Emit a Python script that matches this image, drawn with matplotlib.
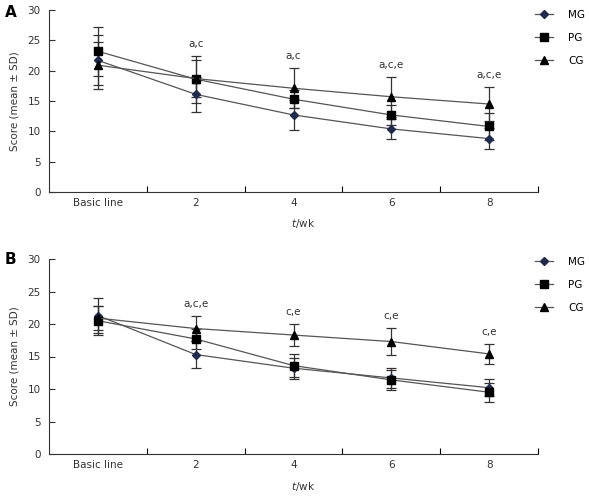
import numpy as np
import matplotlib
matplotlib.use("Agg")
import matplotlib.pyplot as plt
from matplotlib.ticker import MultipleLocator
from matplotlib.lines import Line2D

categories = ["Basic line", "2", "4", "6", "8"]

# Panel A
a_mg = [21.7, 16.1, 12.7, 10.4, 8.8]
a_mg_sd = [4.1, 2.9, 2.5, 1.7, 1.7]
a_pg = [23.2, 18.6, 15.3, 12.7, 10.8]
a_pg_sd = [4.0, 3.9, 1.5, 1.6, 2.2]
a_cg = [20.9, 18.7, 17.1, 15.7, 14.5]
a_cg_sd = [3.9, 3.1, 3.3, 3.3, 2.8]
a_notes = ["", "a,c", "a,c", "a,c,e", "a,c,e"]

# Panel B
b_mg = [21.3, 15.3, 13.2, 11.7, 10.2]
b_mg_sd = [2.7, 2.1, 1.6, 1.6, 1.3]
b_pg = [20.5, 17.7, 13.6, 11.4, 9.5]
b_pg_sd = [2.2, 1.5, 1.8, 1.5, 1.5]
b_cg = [20.9, 19.3, 18.3, 17.3, 15.4]
b_cg_sd = [1.8, 1.9, 1.7, 2.1, 1.5]
b_notes = ["", "a,c,e", "c,e", "c,e", "c,e"]

plt.rcParams['font.family'] = ['DejaVu Sans']
fs = 7.5

fig = plt.figure(figsize=(5.89, 4.96), dpi=100)
ax_a = fig.add_axes([49/589, 1-192/496, 489/589, 182/496])
ax_b = fig.add_axes([49/589, 1-454/496, 489/589, 195/496])

x = np.arange(len(categories))
line_c = '#555555'
err_c = '#333333'
txt_c = '#333333'


def draw(ax, mg, mg_sd, pg, pg_sd, cg, cg_sd, notes, label, xlab_y, lab_y, leg_top):
    series = [
        ("MG", mg, mg_sd, 'D', '#1e2a4e', 4.5),
        ("PG", pg, pg_sd, 's', 'black', 5.5),
        ("CG", cg, cg_sd, '^', 'black', 6),
    ]
    handles = []
    for name, v, sd, m, mc, ms in series:
        ax.errorbar(x, v, yerr=sd, color=line_c, ecolor=err_c, elinewidth=0.9,
                    capsize=3.5, capthick=0.9, lw=0.9, marker=m, ms=ms,
                    mfc=mc, mec=mc)
        handles.append(Line2D([], [], color=line_c, lw=0.9, marker=m, ms=ms,
                              mfc=mc, mec=mc, label=name))
    for i, t in enumerate(notes):
        if t:
            top = max(mg[i] + mg_sd[i], pg[i] + pg_sd[i], cg[i] + cg_sd[i])
            ax.annotate(t, (x[i], top), xytext=(0, 5), textcoords='offset points',
                        ha='center', va='bottom', fontsize=fs, color=txt_c)
    ax.set_xlim(-0.5, 4.5)
    ax.set_ylim(0, 30)
    ax.yaxis.set_major_locator(MultipleLocator(5))
    ax.set_xticks(x)
    ax.set_xticklabels(categories)
    ax.set_xticks(np.arange(0.5, 5, 1), minor=True)
    ax.tick_params(axis='x', which='major', length=0, labelsize=fs, pad=4, colors=txt_c)
    ax.tick_params(axis='x', which='minor', direction='in', length=4, width=0.8)
    ax.tick_params(axis='y', direction='in', length=4, width=0.8, labelsize=fs,
                   pad=6, colors=txt_c)
    for s in ['top', 'right']:
        ax.spines[s].set_visible(False)
    for s in ['left', 'bottom']:
        ax.spines[s].set_color(txt_c)
        ax.spines[s].set_linewidth(0.8)
    ax.set_ylabel("Score (mean \u00b1 SD)", fontsize=fs, color=txt_c, labelpad=6)
    ax.set_xlabel("$t$/wk", fontsize=fs, color=txt_c)
    ax.xaxis.set_label_coords(0.52, xlab_y)
    ax.text(-0.09, lab_y, label, transform=ax.transAxes, fontsize=11,
            fontweight='bold', ha='left', va='center')
    fig.legend(handles=handles, loc='upper left', bbox_to_anchor=(535/589, leg_top),
               frameon=False, fontsize=fs, handlelength=1.7, labelspacing=1.25,
               handletextpad=1.5, borderpad=0, borderaxespad=0)


draw(ax_a, a_mg, a_mg_sd, a_pg, a_pg_sd, a_cg, a_cg_sd, a_notes, "A",
     -0.14, 0.984, 1-10/496)
draw(ax_b, b_mg, b_mg_sd, b_pg, b_pg_sd, b_cg, b_cg_sd, b_notes, "B",
     -0.135, 0.995, 1-257/496)

fig.savefig("out.png", dpi=100)
